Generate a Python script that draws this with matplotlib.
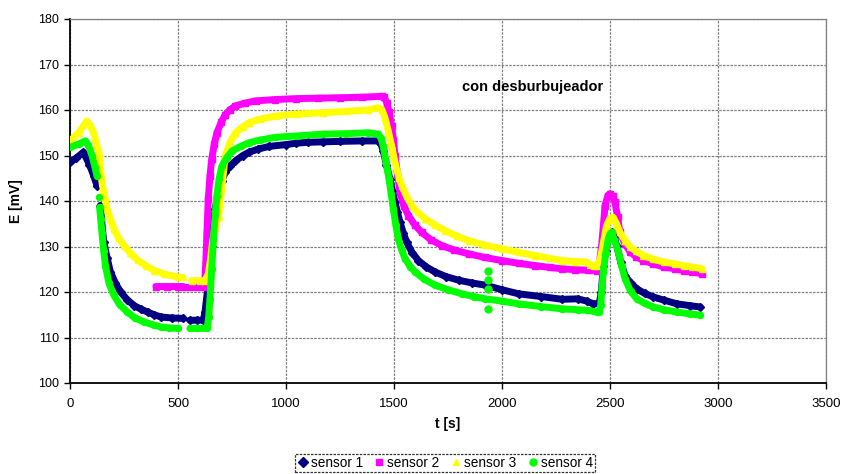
import numpy as np
import matplotlib.pyplot as plt
from matplotlib.lines import Line2D

nan = np.nan

# sensor 1 (navy)
t1 = [0, 30, 62, 90, 110, 125, nan, 140, 156, 172, 187, 210, 234, 265, 297, 330, 359, 390, 422, 470, 523, nan,
      555, 590, 617, 625, 632, 640, 648, 656, 664, 672, 688, 703, 719, 742, 766, 800, 828, 870, 922, 1000, 1047,
      1100, 1172, 1250, 1350, 1427, 1440, 1450, 1465, 1481, 1493, 1505, 1516, 1528, 1543, 1559, 1585, 1613, 1650,
      1690, 1740, 1799, 1860, 1923, 2000, 2077, 2180, 2279, 2350, 2392, 2423, 2450, 2460, 2469, 2480, 2492, 2508,
      2520, 2531, 2550, 2570, 2595, 2624, 2660, 2701, 2750, 2810, 2870, 2918]
e1 = [148.5, 149.5, 150.7, 148, 145.5, 143.4, nan, 139, 131, 127.5, 124.4, 122, 120, 118.3, 117, 116.2, 115.6, 115,
      114.5, 114.3, 114.2, nan, 113.8, 113.8, 113.8, 115.6, 118.5, 121.5, 126, 130.2, 134.5, 138.3, 142, 144.5,
      146.3, 147.8, 148.8, 150, 150.7, 151.4, 152, 152.4, 152.7, 152.9, 153, 153.1, 153.2, 153.2, 152.5, 151, 148,
      144.8, 142.2, 139.7, 137.5, 135.3, 133, 130.9, 128.6, 126.9, 125.5, 124.4, 123.4, 122.6, 122, 121.5, 120.5,
      119.6, 119, 118.4, 118.5, 118, 117.4, 117.5, 120, 125.8, 129, 131.7, 133.1, 132, 130.2, 126.5, 123.6, 122,
      120.7, 119.7, 118.9, 118.2, 117.4, 117, 116.7]

# sensor 2 (magenta)
t2 = [398, 450, 500, 523, nan, 555, 590, 622, 628, 634, 640, 648, 656, 668, 680, 700, 719, 742, 766, 810, 859, 950,
      1047, 1150, 1250, 1350, 1443, 1455, 1466, 1478, 1489, 1497, 1505, 1516, 1528, 1545, 1567, 1595, 1628, 1670,
      1721, 1780, 1845, 1920, 2000, 2077, 2155, 2220, 2279, 2340, 2400, 2438, 2450, 2461, 2470, 2477, 2490, 2500,
      2512, 2523, 2535, 2546, 2570, 2593, 2620, 2655, 2700, 2748, 2800, 2841, 2880, 2926]
e2 = [121.2, 121.2, 121.2, 121.2, nan, 121, 121, 121, 125.8, 133, 140.4, 145.5, 149.2, 152.5, 155, 157.3, 159, 160.1,
      160.9, 161.5, 162, 162.3, 162.5, 162.6, 162.7, 162.8, 163, 162.8, 161.6, 159.5, 156.5, 153.5, 150, 146, 141.9,
      139, 136.8, 134.8, 133.1, 131.5, 130.2, 129.2, 128.4, 127.6, 126.9, 126.3, 125.8, 125.4, 125.1, 124.9, 124.8,
      124.7, 126, 130.2, 135, 139, 141.2, 141.6, 141, 139.7, 136.5, 133.1, 130.5, 128.8, 127.8, 126.9, 126.2, 125.5,
      125.1, 124.7, 124.4, 124]

# sensor 3 (yellow)
t3 = [0, 40, 78, 95, 109, 120, 133, 148, 160, 172, 187, 203, 225, 250, 280, 313, 350, 391, 440, 500, 523, nan, 563,
      600, 625, 640, 650, 660, 672, 688, 703, 719, 742, 766, 800, 828, 880, 953, 1050, 1172, 1280, 1380, 1427, 1445,
      1458, 1473, 1489, 1500, 1512, 1524, 1536, 1558, 1582, 1610, 1644, 1690, 1737, 1790, 1845, 1920, 2000, 2077,
      2155, 2220, 2279, 2340, 2392, 2407, 2425, 2440, 2455, 2470, 2484, 2500, 2515, 2530, 2546, 2570, 2593, 2620,
      2655, 2700, 2748, 2800, 2841, 2880, 2926]
e3 = [153.2, 155, 157.6, 156.5, 155, 153, 150.7, 144, 141, 138.2, 136, 133.9, 131.8, 130.2, 128.5, 127, 125.8, 124.7,
      123.9, 123.3, 123.2, nan, 122.5, 122.5, 122.5, 124, 127, 131, 134, 136.8, 143, 150, 153, 155, 156.3, 157.2,
      158, 158.7, 159.1, 159.4, 159.7, 160, 160.5, 160, 158.3, 155.5, 152.1, 149.5, 147, 145, 143.4, 141, 139,
      137.5, 136.1, 134.7, 133.5, 132.3, 131.3, 130.3, 129.5, 128.7, 128, 127.4, 126.9, 126.7, 126.6, 126, 125.8,
      125.8, 127.3, 131, 134.6, 136.2, 136.4, 135, 133.1, 131.3, 129.9, 129, 128, 127.2, 126.6, 126.2, 125.8, 125.5,
      125.1]

# sensor 4 (green)
t4 = [0, 40, 70, 85, 102, 115, 125, nan, 133, nan, 137, 142, 148, 156, 164, 180, 203, 230, 266, 300, 344, 390, 422,
      460, 500, nan, 555, 590, 635, 642, 648, 656, 664, 672, 680, 690, 703, 725, 750, 790, 828, 880, 953, 1050, 1172,
      1280, 1380, 1427, 1440, 1450, 1463, 1477, 1487, 1497, 1508, 1520, 1535, 1551, 1575, 1598, 1640, 1690, 1750,
      1814, 1870, 1923, 2000, 2077, 2180, 2279, 2350, 2392, 2438, 2450, 2457, 2463, 2469, 2480, 2492, 2500, 2508,
      2520, 2539, 2555, 2570, 2595, 2624, 2660, 2701, 2750, 2810, 2870, 2918]
e4 = [151.8, 152.5, 153.2, 152.3, 150, 147.5, 145.5, nan, 140.8, nan, 138.6, 136, 133, 129, 125.8, 122, 119.3, 117.2,
      115.6, 114.3, 113.4, 112.7, 112.3, 112.1, 112, nan, 112, 112, 112, 114.5, 118.5, 125, 131.7, 137, 141.2, 144.8,
      147.7, 149.5, 151, 152, 152.8, 153.4, 154, 154.3, 154.7, 154.8, 155, 154.7, 153.8, 152.1, 148.5, 144.8, 141.5,
      138.2, 134.8, 131.7, 129.3, 127.3, 125.6, 124.4, 122.8, 121.5, 120.5, 119.6, 119, 118.5, 118, 117.4, 116.8,
      116.3, 116.1, 116, 115.6, 115.7, 117.1, 121, 124.4, 128.5, 131.7, 132.8, 133.1, 131.5, 128.8, 125.5, 122.9,
      120.2, 118.5, 117.5, 116.7, 116.1, 115.6, 115.2, 114.9]
# stray sensor 4 readings near t = 1933 s
t4_stray = [1933, 1933, 1933, 1933]
e4_stray = [124.7, 122.6, 120.7, 116.3]

names = ['sensor 1', 'sensor 2', 'sensor 3', 'sensor 4']
colors = ['#000080', '#FF00FF', '#FFFF00', '#00FF00']
markers = ['D', 's', '^', 'o']

plt.rcParams['font.family'] = ['Liberation Sans', 'DejaVu Sans']

fig = plt.figure(figsize=(8.42, 4.74), dpi=100)
ax = fig.add_axes([70 / 842, 1 - 383 / 474, 756 / 842, 364 / 474])

series = [(t1, e1), (t2, e2), (t3, e3), (t4, e4)]
for (t, e), c, m in zip(series, colors, markers):
    ax.plot(t, e, color=c, lw=5, marker=m, ms=4.3, mec=c, mfc=c,
            solid_capstyle='round', solid_joinstyle='round', zorder=3)
ax.plot(t4_stray, e4_stray, 'o', color=colors[3], ms=5, zorder=3)

ax.text(2140, 165, 'con desburbujeador', fontsize=10.5, fontweight='bold',
        ha='center', va='center')

ax.set_xlim(0, 3500)
ax.set_ylim(100, 180)
ax.set_xticks(np.arange(0, 3501, 500))
ax.set_yticks(np.arange(100, 181, 10))
ax.grid(True, color='#808080', linestyle=(0, (2, 1)), linewidth=0.9)
ax.set_axisbelow(True)
ax.tick_params(direction='out', length=4, width=1, colors='black')
ax.tick_params(axis='x', labelsize=9.5, pad=7)
ax.tick_params(axis='y', labelsize=9, pad=4)
ax.spines['left'].set_linewidth(1.3)
ax.spines['bottom'].set_linewidth(1.3)
for s in ['top', 'right']:
    ax.spines[s].set_color('#808080')
    ax.spines[s].set_linewidth(0.9)

ax.set_xlabel('t [s]', fontsize=10, fontweight='bold', labelpad=5)
ax.set_ylabel('E [mV]', fontsize=10, fontweight='bold', labelpad=11)

handles = [Line2D([], [], color=c, marker=m, ls='none', ms=5) for c, m in zip(colors, markers)]
leg = fig.legend(handles, names, loc='center', bbox_to_anchor=(445 / 842, 1 - 463 / 474), ncol=4,
                 fontsize=9.8, frameon=True, fancybox=False, handlelength=0.8, handletextpad=0.2,
                 columnspacing=0.8, borderpad=0.15, borderaxespad=0)
leg.get_frame().set_edgecolor('black')
leg.get_frame().set_linestyle((0, (2, 1)))
leg.get_frame().set_linewidth(0.9)

plt.savefig('out.png', dpi=100)
